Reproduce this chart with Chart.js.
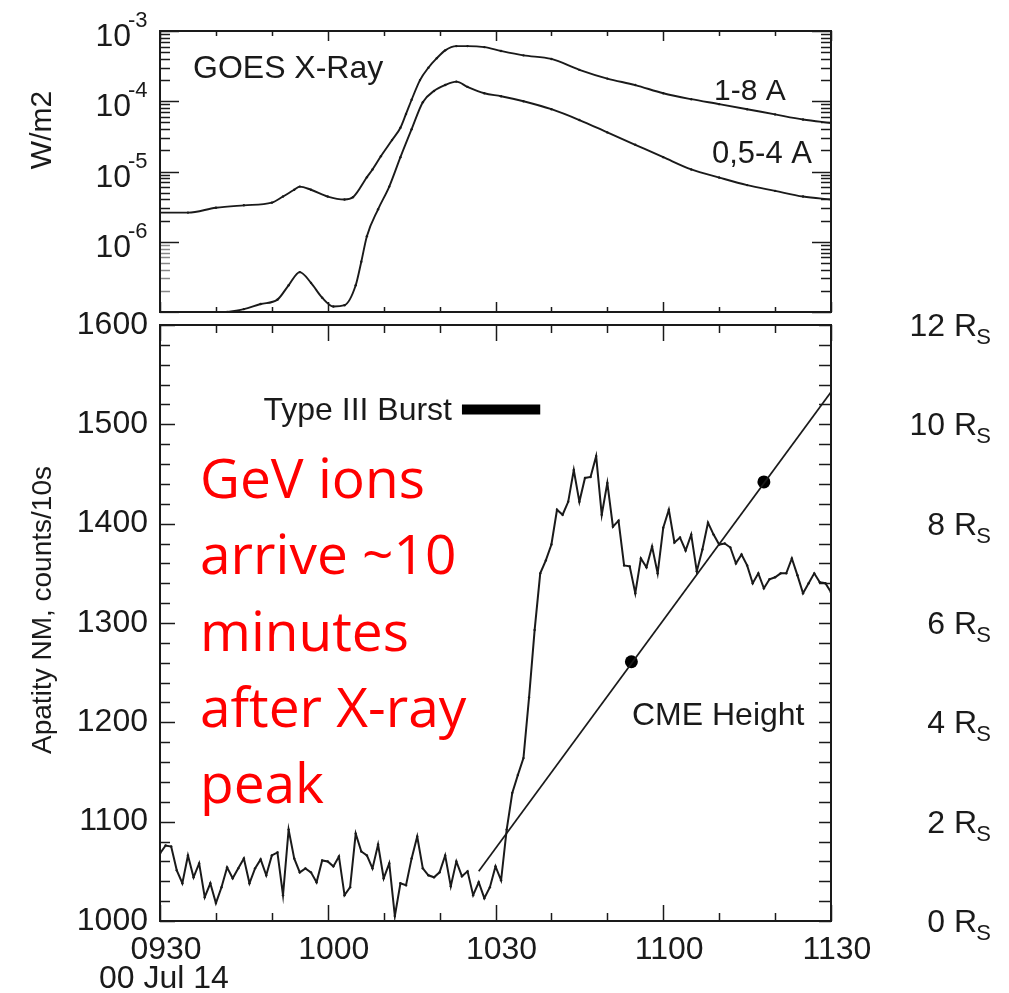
<!DOCTYPE html>
<html>
<head>
<meta charset="utf-8">
<script src="https://cdn.jsdelivr.net/npm/chart.js@4.4.1/dist/chart.umd.min.js"></script>
<style>
  html, body { margin: 0; padding: 0; background: #fff; }
  #wrap { position: relative; width: 1009px; height: 993px; }
  canvas { position: absolute; left: 0; top: 0; }
</style>
</head>
<body>
<div id="wrap">
  <canvas id="nm" width="1009" height="993"></canvas>
  <canvas id="goes" width="1009" height="330"></canvas>
</div>
<script>
// time axis: minutes after 09:30 UT, 14 Jul 2000
const timeTicks = [0, 30, 60, 90, 120];
const timeLabels = ["0930", "1000", "1030", "1100", "1130"];

// GOES X-ray flux, W/m2
const goesLongTimes = [0, 5, 10, 15, 20, 22, 24, 25, 27, 30, 33, 34.5, 37, 38, 39.5, 41.5, 43, 44, 45, 46.5, 48, 49.5, 51, 53, 55, 58, 61, 65, 70, 75, 80, 85, 90, 95, 100, 105, 110, 115, 120];
const goesLong = [2.6e-6, 2.6e-6, 3.05e-6, 3.3e-6, 3.6e-6, 4.4e-6, 5.5e-6, 6.1e-6, 5.5e-6, 4.4e-6, 4.0e-6, 4.3e-6, 8.3e-6, 1.07e-5, 1.65e-5, 2.8e-5, 4.2e-5, 6.6e-5, 1.05e-4, 2.0e-4, 3.0e-4, 4.1e-4, 5.3e-4, 6.1e-4, 6.1e-4, 5.9e-4, 5.2e-4, 4.5e-4, 4.0e-4, 2.8e-4, 2.1e-4, 1.7e-4, 1.3e-4, 1.07e-4, 9.1e-5, 7.7e-5, 6.5e-5, 5.5e-5, 4.9e-5];
const goesShortTimes = [12, 15, 18, 21, 23, 25, 27, 29, 31, 33, 35, 36, 37, 39, 41, 43, 45, 47, 49, 51, 53, 55, 58, 61, 65, 70, 75, 80, 85, 90, 95, 100, 105, 110, 115, 120];
const goesShort = [1.0e-7, 1.1e-7, 1.3e-7, 1.5e-7, 2.4e-7, 3.7e-7, 2.6e-7, 1.6e-7, 1.2e-7, 1.25e-7, 2.4e-7, 5.2e-7, 1.2e-6, 2.9e-6, 6.1e-6, 1.6e-5, 4.0e-5, 9.7e-5, 1.4e-4, 1.7e-4, 1.9e-4, 1.6e-4, 1.3e-4, 1.18e-4, 1.0e-4, 7.7e-5, 5.4e-5, 3.6e-5, 2.4e-5, 1.6e-5, 1.07e-5, 8.2e-6, 6.4e-6, 5.3e-6, 4.4e-6, 4.0e-6];

// Apatity neutron monitor, one value per minute from 0930
const nmCounts = [
  1068, 1076, 1075, 1051, 1038, 1066, 1044, 1058, 1024, 1038,
  1018, 1034, 1054, 1043, 1053, 1063, 1038, 1053, 1062, 1046,
  1066, 1069, 1026, 1092, 1063, 1049, 1053, 1049, 1039, 1061,
  1060, 1055, 1065, 1026, 1034, 1088, 1070, 1066, 1053, 1077,
  1043, 1058, 1005, 1038, 1036, 1063, 1085, 1053, 1046, 1044,
  1049, 1066, 1035, 1060, 1045, 1050, 1026, 1039, 1023, 1034,
  1055, 1041, 1092, 1129, 1147, 1164, 1225, 1293, 1350, 1363,
  1379, 1414, 1409, 1422, 1454, 1422, 1446, 1447, 1468, 1409,
  1441, 1397, 1403, 1358, 1357, 1330, 1365, 1356, 1377, 1350,
  1396, 1414, 1381, 1386, 1373, 1389, 1352, 1374, 1401, 1389,
  1379, 1380, 1376, 1360, 1369, 1358, 1340, 1350, 1335, 1344,
  1346, 1350, 1350, 1365, 1348, 1330, 1340, 1350, 1341, 1340,
  1331
];

// CME height in solar radii
const cmeFitTimes = [57, 120];
const cmeFitHeights = [1.0, 10.65];
const cmeObsTimes = [84.3, 108];
const cmeObsHeights = [5.22, 8.84];

// Type III radio burst interval
const typeIIITimes = [54, 68];
const typeIIILevel = [1515, 1515];

const ink = "#1a1a1a";
const sans = "'Liberation Sans', Arial, sans-serif";

function seg(ctx, x1, y1, x2, y2) {
  ctx.beginPath();
  ctx.moveTo(x1, y1);
  ctx.lineTo(x2, y2);
  ctx.stroke();
}

function timeTickMarks(ctx, sx, a, majorLen, minorLen) {
  for (let m = 0; m <= 120; m += 10) {
    const px = Math.round(sx.getPixelForValue(m)) + 0.5;
    const len = m % 30 === 0 ? majorLen : minorLen;
    seg(ctx, px, a.bottom, px, a.bottom - len);
    seg(ctx, px, a.top, px, a.top + len);
  }
}

// frame, inward ticks and labels of the GOES panel
const goesDecor = {
  id: "goesDecor",
  afterDraw(chart) {
    const ctx = chart.ctx, a = chart.chartArea;
    const sx = chart.scales.x, sy = chart.scales.y;
    ctx.save();
    ctx.strokeStyle = ink;
    ctx.lineWidth = 1.5;
    timeTickMarks(ctx, sx, a, 10, 5);
    for (let e = -7; e <= -3; e++) {
      for (let k = 1; k <= 9; k++) {
        const v = k * Math.pow(10, e);
        if (v > 1.0001e-3) break;
        const py = Math.round(sy.getPixelForValue(v)) + 0.5;
        const len = k === 1 ? 19 : 10;
        ctx.strokeStyle = e === -7 ? "#888" : ink;
        seg(ctx, a.left, py, a.left + len, py);
        ctx.strokeStyle = ink;
        seg(ctx, a.right, py, a.right - len, py);
      }
    }
    ctx.lineWidth = 2;
    ctx.strokeRect(a.left, a.top, a.right - a.left, a.bottom - a.top);

    ctx.fillStyle = ink;
    for (let e = -6; e <= -3; e++) {
      const py = sy.getPixelForValue(Math.pow(10, e));
      ctx.font = "32px " + sans;
      ctx.textAlign = "right";
      ctx.fillText("10", 131, py + 15);
      ctx.font = "22px " + sans;
      ctx.textAlign = "left";
      ctx.fillText("-" + (-e), 128, py - 4);
    }
    ctx.font = "32px " + sans;
    ctx.textAlign = "left";
    ctx.fillText("GOES X-Ray", 193, 78);
    ctx.font = "30px " + sans;
    ctx.fillText("1-8 A", 714, 100);
    ctx.font = "31px " + sans;
    ctx.fillText("0,5-4 A", 712, 163);

    ctx.font = "30px " + sans;
    ctx.translate(41, 130);
    ctx.rotate(-Math.PI / 2);
    ctx.textAlign = "center";
    ctx.fillText("W/m2", 0, 10);
    ctx.restore();
  }
};

// frame, inward ticks and labels of the neutron monitor panel
const nmDecor = {
  id: "nmDecor",
  afterDraw(chart) {
    const ctx = chart.ctx, a = chart.chartArea;
    const sx = chart.scales.x, sy = chart.scales.y, sr = chart.scales.yR;
    ctx.save();
    ctx.strokeStyle = ink;
    ctx.lineWidth = 1.5;
    timeTickMarks(ctx, sx, a, 16, 8);
    for (let c = 1000; c <= 1600; c += 20) {
      const py = Math.round(sy.getPixelForValue(c)) + 0.5;
      seg(ctx, a.left, py, a.left + (c % 100 === 0 ? 15 : 10), py);
      seg(ctx, a.right, py, a.right - 12, py);
    }
    ctx.lineWidth = 2;
    ctx.strokeRect(a.left, a.top, a.right - a.left, a.bottom - a.top);

    ctx.fillStyle = ink;
    // right axis: CME height in R_S
    for (let h = 0; h <= 12; h += 2) {
      const py = sr.getPixelForValue(h);
      ctx.font = "22px " + sans;
      ctx.textAlign = "right";
      ctx.fillText("S", 991, py + 19);
      ctx.font = "32px " + sans;
      ctx.fillText(h + " R", 977, py + 11);
    }
    ctx.font = "32px " + sans;
    ctx.textAlign = "right";
    ctx.fillText("Type III Burst", 452, 420);
    ctx.textAlign = "left";
    ctx.fillText("CME Height", 632, 725);
    ctx.fillText("00 Jul 14", 99, 988);

    ctx.fillStyle = "#ff0000";
    ctx.font = "55px 'Open Sans', sans-serif";
    const note = ["GeV ions", "arrive ~10", "minutes", "after X-ray", "peak"];
    note.forEach((t, i) => ctx.fillText(t, 200, 498 + i * 76.3));

    ctx.fillStyle = ink;
    ctx.font = "28px " + sans;
    ctx.translate(41, 610);
    ctx.rotate(-Math.PI / 2);
    ctx.textAlign = "center";
    ctx.fillText("Apatity NM, counts/10s", 0, 10);
    ctx.restore();
  }
};

const common = {
  responsive: false,
  animation: false,
  events: [],
  plugins: { legend: { display: false }, tooltip: { enabled: false } }
};

new Chart(document.getElementById("goes"), {
  type: "line",
  data: {
    datasets: [
      {
        label: "1-8 A",
        data: goesLongTimes.map((t, i) => ({ x: t, y: goesLong[i] })),
        borderColor: ink, backgroundColor: ink,
        borderWidth: 1.9, pointRadius: 1.2, pointBorderWidth: 0,
        cubicInterpolationMode: "monotone"
      },
      {
        label: "0,5-4 A",
        data: goesShortTimes.map((t, i) => ({ x: t, y: goesShort[i] })),
        borderColor: ink, backgroundColor: ink,
        borderWidth: 1.9, pointRadius: 1.2, pointBorderWidth: 0,
        cubicInterpolationMode: "monotone"
      }
    ]
  },
  options: {
    ...common,
    layout: { padding: { left: 160, right: 178, top: 31, bottom: 18 } },
    scales: {
      x: { type: "linear", min: 0, max: 120, display: false },
      y: { type: "logarithmic", min: 1e-7, max: 1e-3, display: false }
    }
  },
  plugins: [goesDecor]
});

new Chart(document.getElementById("nm"), {
  type: "line",
  data: {
    datasets: [
      {
        label: "Apatity NM",
        data: nmCounts.map((c, i) => ({ x: i, y: c })),
        borderColor: ink, backgroundColor: ink,
        borderWidth: 2, pointRadius: 1.2, pointBorderWidth: 0,
        yAxisID: "y"
      },
      {
        label: "CME Height fit",
        data: cmeFitTimes.map((t, i) => ({ x: t, y: cmeFitHeights[i] })),
        borderColor: ink, borderWidth: 1.7, pointRadius: 0,
        yAxisID: "yR"
      },
      {
        label: "CME Height",
        data: cmeObsTimes.map((t, i) => ({ x: t, y: cmeObsHeights[i] })),
        showLine: false, pointRadius: 6.5, pointBorderWidth: 0,
        backgroundColor: "#000", borderColor: "#000",
        yAxisID: "yR"
      },
      {
        label: "Type III Burst",
        data: typeIIITimes.map((t, i) => ({ x: t, y: typeIIILevel[i] })),
        borderColor: "#000", borderWidth: 10, borderCapStyle: "butt",
        pointRadius: 0, yAxisID: "y"
      }
    ]
  },
  options: {
    ...common,
    layout: { padding: { left: 0, right: 0, top: 325, bottom: 0 } },
    scales: {
      x: {
        type: "linear", min: 0, max: 120, position: "bottom",
        afterFit: (s) => { s.height = 72; },
        grid: { display: false, drawTicks: false },
        border: { display: false },
        ticks: {
          stepSize: 10, autoSkip: false, maxRotation: 0,
          padding: 10, labelOffset: 6, color: ink,
          font: { family: sans, size: 32 },
          callback: (v) => {
            const i = timeTicks.indexOf(v);
            return i >= 0 ? timeLabels[i] : "";
          }
        }
      },
      y: {
        type: "linear", min: 1000, max: 1600, position: "left",
        afterFit: (s) => { s.width = 160; },
        grid: { display: false, drawTicks: false },
        border: { display: false },
        ticks: {
          stepSize: 100, padding: 12, color: ink,
          font: { family: sans, size: 32 },
          callback: (v) => String(v)
        }
      },
      yR: {
        type: "linear", min: 0, max: 12, position: "right",
        afterFit: (s) => { s.width = 178; },
        grid: { display: false, drawTicks: false },
        border: { display: false },
        ticks: { display: false }
      }
    }
  },
  plugins: [nmDecor]
});
</script>
</body>
</html>
